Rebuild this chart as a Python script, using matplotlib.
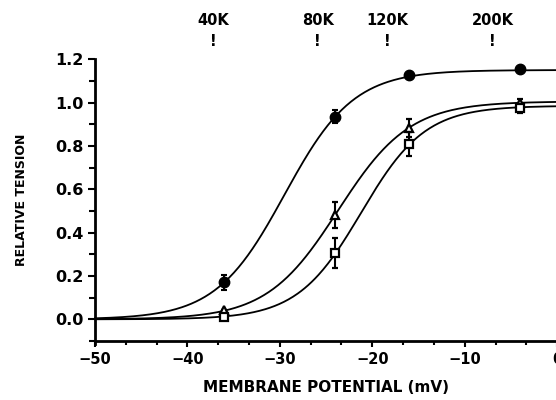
import numpy as np
import matplotlib
matplotlib.use("Agg")
import matplotlib.pyplot as plt
from matplotlib.ticker import MultipleLocator, FixedLocator

# Data (membrane potential in mV, relative tension)
potential = [-36, -24, -16, -4]
circles = [0.17, 0.935, 1.127, 1.153]
circles_err = [0.035, 0.03, 0.0, 0.0]
triangles = [0.045, 0.48, 0.882, 0.996]
triangles_err = [0.0, 0.06, 0.04, 0.02]
squares = [0.01, 0.305, 0.807, 0.973]
squares_err = [0.0, 0.068, 0.055, 0.02]

# Boltzmann fit parameters (amplitude, V50, slope)
fit_circles = (1.15, -29.5, 3.73)
fit_triangles = (1.005, -23.7, 3.86)
fit_squares = (0.985, -21.2, 3.46)

top_labels = ["40K", "80K", "120K", "200K"]
top_label_x = [-37.2, -25.9, -18.4, -7.0]

xticks = [-50, -40, -30, -20, -10, 0]
yticks = [0.0, 0.2, 0.4, 0.6, 0.8, 1.0, 1.2]

plt.rcParams['font.family'] = ['DejaVu Sans']
plt.rcParams['font.weight'] = 'bold'

fig = plt.figure(figsize=(5.56, 4.0), dpi=100)
ax = fig.add_axes([0.171, 0.1475, 0.831, 0.7045])

def boltz(v, p):
    a, v50, k = p
    return a / (1.0 + np.exp((v50 - v) / k))

vv = np.linspace(-50, 0, 400)
for p in (fit_circles, fit_triangles, fit_squares):
    ax.plot(vv, boltz(vv, p), color='black', lw=1.3, clip_on=False, zorder=2)

ax.errorbar(potential, circles, yerr=circles_err, fmt='o', color='black',
            ms=7.5, capsize=2.5, elinewidth=1.5, capthick=1.5, zorder=4, clip_on=False)
ax.errorbar(potential, triangles, yerr=triangles_err, fmt='^', mfc='white', mec='black',
            ecolor='black', mew=1.6, ms=6, capsize=2.5, elinewidth=1.5, capthick=1.5,
            zorder=4, clip_on=False)
ax.errorbar(potential, squares, yerr=squares_err, fmt='s', mfc='white', mec='black',
            ecolor='black', mew=1.6, ms=5.5, capsize=2.5, elinewidth=1.5, capthick=1.5,
            zorder=5, clip_on=False)

ax.set_xlim(-50, 0)
ax.set_ylim(-0.1, 1.2)
ax.spines['top'].set_visible(False)
ax.spines['right'].set_visible(False)
ax.spines['left'].set_linewidth(2.0)
ax.spines['bottom'].set_linewidth(2.0)
ax.spines['left'].set_bounds(-0.115, 1.2)

ax.xaxis.set_major_locator(FixedLocator(xticks))
ax.xaxis.set_minor_locator(MultipleLocator(10 / 3))
ax.yaxis.set_major_locator(FixedLocator(yticks))
ax.yaxis.set_minor_locator(MultipleLocator(0.1))
ax.set_xticklabels(["\u221250", "\u221240", "\u221230", "\u221220", "\u221210", "0"])
ax.set_yticklabels([f"{t:.1f}" for t in yticks])
ax.tick_params(axis='x', which='major', direction='out', length=4, width=1.5,
               labelsize=10.5, pad=4)
ax.tick_params(axis='x', which='minor', direction='out', length=3, width=1.5)
ax.tick_params(axis='y', which='major', direction='out', length=5, width=1.5,
               labelsize=11.5, pad=3)
ax.tick_params(axis='y', which='minor', direction='out', length=4, width=1.5)
for lab in ax.get_xticklabels() + ax.get_yticklabels():
    lab.set_fontweight('bold')

ax.set_xlabel("MEMBRANE POTENTIAL (mV)", fontsize=11, fontweight='bold', labelpad=9)
ax.set_ylabel("RELATIVE TENSION", fontsize=9, fontweight='bold', labelpad=20)

for lx, lt in zip(top_label_x, top_labels):
    ax.text(lx, 1.377, lt, ha='center', va='center', fontsize=10.5,
            fontweight='bold', clip_on=False)
    ax.text(lx, 1.28, "!", ha='center', va='center', fontsize=10.5,
            fontweight='bold', clip_on=False)

fig.savefig("out.png", dpi=100)
